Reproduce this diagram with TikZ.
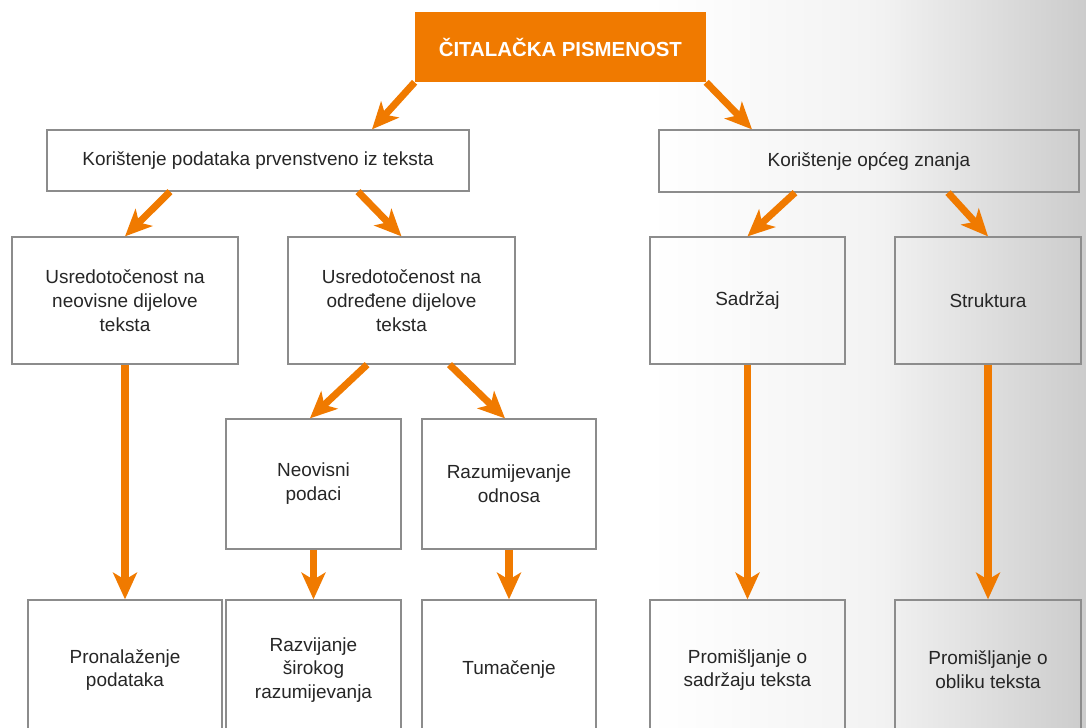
\documentclass[tikz,border=0pt]{standalone}
\usepackage{fontspec}
\setmainfont{Liberation Sans}
\usepackage{tikz}
\usetikzlibrary{arrows.meta}

\definecolor{pisaorange}{RGB}{240,122,0}
\definecolor{boxline}{RGB}{140,140,140}

\begin{document}
\begin{tikzpicture}[
    box/.style={draw=boxline,line width=0.9pt,align=center,inner sep=0pt,font=\fontsize{13.5}{17}\selectfont,text=black!85},
    arr/.style={draw=pisaorange,line width=5pt,-{Stealth[length=19pt,width=17pt,inset=5pt]}}
  ]

    \useasboundingbox (0,0) rectangle (27.15,-18.175);
    \clip (0,0) rectangle (27.15,-18.175);

    %Background
    \shade[left color=white,right color=black!5] (16.25,0) rectangle (22,-18.175);
    \shade[left color=black!5,right color=black!20] (22,0) rectangle (27.15,-18.175);

    %Boxes
    \node[fill=pisaorange,inner sep=0pt,minimum width=7.275cm,minimum height=1.75cm,text=white,font=\fontsize{14.5}{17}\selectfont\bfseries] (cp) at (14.01,-1.175) {ČITALAČKA PISMENOST};

    \node[box,minimum width=10.55cm,minimum height=1.525cm] (kp) at (6.45,-4.0125) {Korištenje podataka prvenstveno iz teksta};
    \node[box,minimum width=10.5cm,minimum height=1.55cm] (ko) at (21.725,-4.025) {Korištenje općeg znanja};

    \node[box,minimum width=5.65cm,minimum height=3.175cm] (un) at (3.125,-7.5125) {Usredotočenost na\\neovisne dijelove\\teksta};
    \node[box,minimum width=5.675cm,minimum height=3.175cm] (uo) at (10.0375,-7.5125) {Usredotočenost na\\određene dijelove\\teksta};
    \node[box,minimum width=4.875cm,minimum height=3.175cm] (sa) at (18.6875,-7.5125) {Sadržaj};
    \node[box,minimum width=4.65cm,minimum height=3.175cm] (st) at (24.7,-7.5125) {Struktura};

    \node[box,minimum width=4.375cm,minimum height=3.25cm] (np) at (7.8375,-12.1) {Neovisni\\podaci};
    \node[box,minimum width=4.35cm,minimum height=3.25cm] (ro) at (12.725,-12.1) {Razumijevanje\\odnosa};

    \node[box,minimum width=4.85cm,minimum height=3.5cm] (pp) at (3.125,-16.75) {Pronalaženje\\podataka};
    \node[box,minimum width=4.375cm,minimum height=3.5cm] (rs) at (7.8375,-16.75) {Razvijanje\\širokog\\razumijevanja};
    \node[box,minimum width=4.35cm,minimum height=3.5cm] (tu) at (12.725,-16.75) {Tumačenje};
    \node[box,minimum width=4.875cm,minimum height=3.5cm] (ps) at (18.6875,-16.75) {Promišljanje o\\sadržaju teksta};
    \node[box,minimum width=4.65cm,minimum height=3.5cm] (po) at (24.7,-16.75) {Promišljanje o\\obliku teksta};

    %Arrows
    \draw[arr] (cp.south west) -- ([xshift=2.85cm]kp.north);
    \draw[arr] (cp.south east) -- ([xshift=-2.925cm]ko.north);

    \draw[arr] ([xshift=-2.2cm]kp.south) -- (un.north);
    \draw[arr] ([xshift=2.5cm]kp.south) -- (uo.north);
    \draw[arr] ([xshift=-1.85cm]ko.south) -- (sa.north);
    \draw[arr] ([xshift=1.975cm]ko.south) -- (st.north);

    \draw[arr] ([xshift=-0.86cm]uo.south) -- ([xshift=-0.09cm]np.north);
    \draw[arr] ([xshift=1.2cm]uo.south) -- ([xshift=-0.1cm]ro.north);

    \draw[arr] (un.south) -- (pp.north);
    \draw[arr] (np.south) -- (rs.north);
    \draw[arr] (ro.south) -- (tu.north);
    \draw[arr] (sa.south) -- (ps.north);
    \draw[arr] (st.south) -- (po.north);

\end{tikzpicture}
\end{document}
